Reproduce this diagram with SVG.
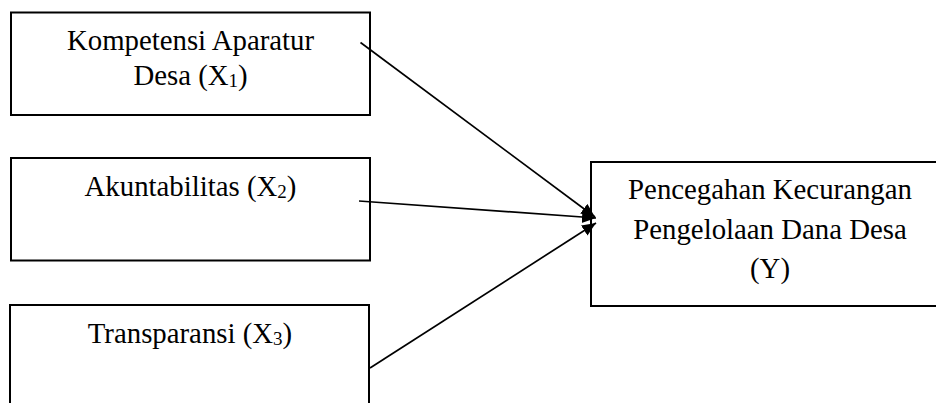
<svg xmlns="http://www.w3.org/2000/svg" width="936" height="403" viewBox="0 0 936 403">
<defs>
<style>
.box{fill:#fff;stroke:#000;stroke-width:2}
.t{font-family:"Liberation Serif","Times New Roman",serif;font-size:28.8px;fill:#000;text-anchor:middle}
.sub{font-size:19px}
.c{stroke:#000;stroke-width:1.7;fill:none}
</style>
<marker id="ah" markerUnits="userSpaceOnUse" markerWidth="16" markerHeight="14" refX="14" refY="6" orient="auto">
<path d="M0,0 L14,6 L0,12 Z" fill="#000"/>
</marker>
</defs>
<rect width="936" height="403" fill="#fff"/>
<g id="x1">
<rect class="box" x="11" y="12.5" width="359" height="102.5"/>
<text class="t" x="190.5" y="50">Kompetensi Aparatur</text>
<text class="t" x="190.5" y="85">Desa (X<tspan class="sub" dy="2">1</tspan><tspan dy="-2">)</tspan></text>
</g>
<g id="x2">
<rect class="box" x="11" y="158" width="359" height="102.5"/>
<text class="t" x="190.5" y="195.5">Akuntabilitas (X<tspan class="sub" dy="2">2</tspan><tspan dy="-2">)</tspan></text>
</g>
<g id="x3">
<rect class="box" x="10" y="305" width="359" height="110"/>
<text class="t" x="190" y="342.5">Transparansi (X<tspan class="sub" dy="2">3</tspan><tspan dy="-2">)</tspan></text>
</g>
<g id="y">
<rect class="box" x="591" y="162" width="360" height="144"/>
<text class="t" x="770" y="199">Pencegahan Kecurangan</text>
<text class="t" x="770" y="238.5">Pengelolaan Dana Desa</text>
<text class="t" x="770" y="277.5">(Y)</text>
</g>
<g id="connectors">
<line class="c" x1="360.5" y1="42.5" x2="595" y2="217" marker-end="url(#ah)"/>
<line class="c" x1="359" y1="201" x2="596" y2="218" marker-end="url(#ah)"/>
<line class="c" x1="370" y1="368" x2="596" y2="223" marker-end="url(#ah)"/>
</g>
</svg>
